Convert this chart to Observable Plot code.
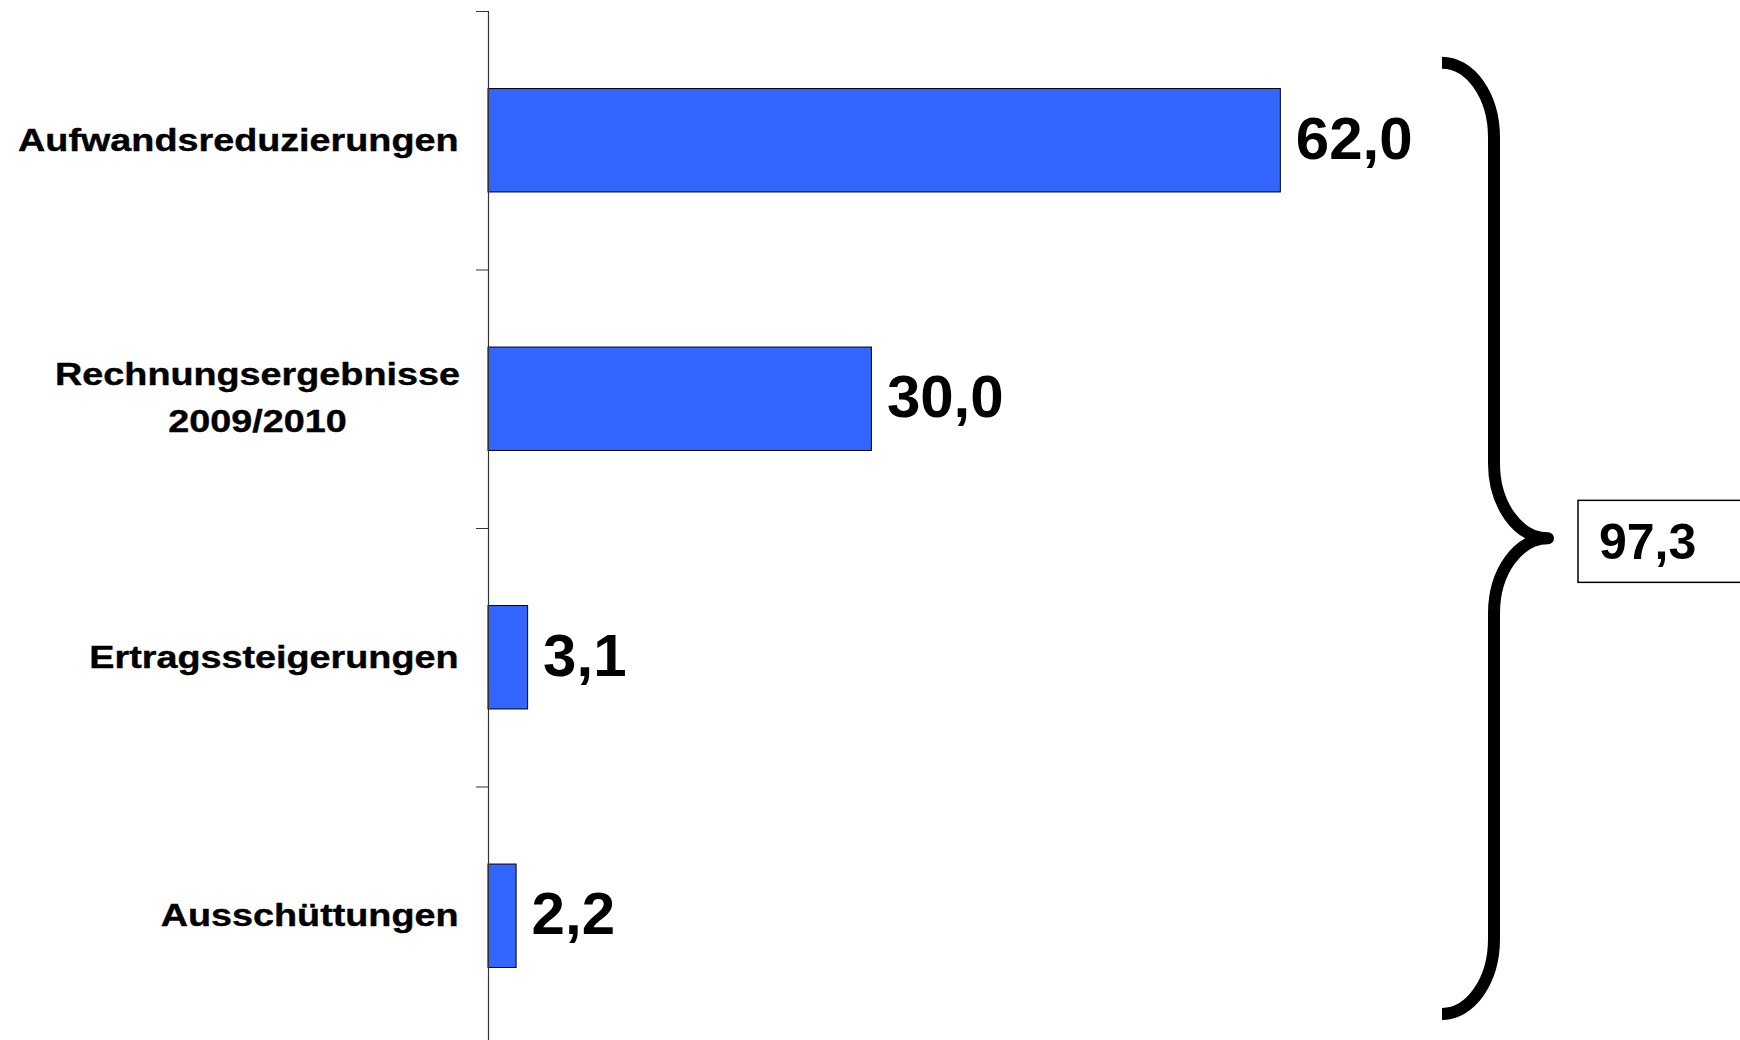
<!DOCTYPE html>
<html><head><meta charset="utf-8">
<script src="https://cdn.jsdelivr.net/npm/d3@7"></script>
<script src="https://cdn.jsdelivr.net/npm/@observablehq/plot@0.6"></script>
<style>
html,body{margin:0;padding:0;background:#fff;}
#chart{width:1740px;height:1040px;overflow:hidden;}
</style>
</head><body><div id="chart"></div>
<script>
// ---- data ----
const categories = ["Aufwandsreduzierungen", "Rechnungsergebnisse\n2009/2010", "Ertragssteigerungen", "Ausschüttungen"];
const values = [62.0, 30.0, 3.1, 2.2];
const totalValue = 97.3;

const data = categories.map((c, i) => ({category: c, value: values[i], i}));
const fmt = v => d3.format(".1f")(v).replace(".", ",");
const FONT = "Arial, 'Liberation Sans', Helvetica, sans-serif";
const single = data.filter(d => !d.category.includes("\n"));
const multi = data.filter(d => d.category.includes("\n"));

const chart = Plot.plot({
  width: 1740, height: 1040,
  marginLeft: 488, marginRight: 0, marginTop: 11, marginBottom: 0,
  style: {fontFamily: FONT, background: "#fff", overflow: "hidden", color: "#000"},
  x: {domain: [0, 97.97], axis: null},
  y: {domain: [0, 4], range: [11, 1045], axis: null},
  marks: [
    Plot.rectX(data, {x1: 0, x2: "value", y1: d => d.i + 0.3, y2: d => d.i + 0.7,
      fill: "#3366FF", stroke: "#000", strokeWidth: 1}),
    Plot.axisY({ticks: [0, 1, 2, 3, 4], tickFormat: () => "", tickSize: 12, stroke: "#333", label: null}),
    Plot.ruleX([0], {y1: 0, y2: 4, stroke: "#333", strokeWidth: 1.2}),
    Plot.text(single, {x: 0, y: d => d.i + 0.5, text: "category", textAnchor: "end",
      dx: -30, dy: 0, fontSize: 32, fontWeight: "bold", fill: "#000", stroke: "#000", strokeWidth: 0.4}),
    Plot.text(multi, {x: 0, y: d => d.i + 0.5, text: "category", textAnchor: "middle",
      dx: -231, dy: -6, lineHeight: 1.47, fontSize: 32, fontWeight: "bold", fill: "#000", stroke: "#000", strokeWidth: 0.4}),
    Plot.text(data, {x: "value", y: d => d.i + 0.5, text: d => fmt(d.value), textAnchor: "start",
      dx: 15, dy: -1, fontSize: 60, fontWeight: "bold", fill: "#000"})
  ]
});
document.getElementById("chart").appendChild(chart);

// stretch category labels horizontally (as in the reference)
const flat = categories.map(c => c.replace("\n", ""));
d3.select(chart).selectAll("text").each(function() {
  if (!flat.includes(this.textContent)) return;
  const tr = this.getAttribute("transform");
  if (tr) this.setAttribute("transform", tr + " scale(1.18,1)");
  else {
    const x = +this.getAttribute("x") || 0;
    this.setAttribute("transform", `translate(${x},0) scale(1.18,1) translate(${-x},0)`);
  }
});

// brace + total box annotation
const ys = chart.scale("y");
const yt = ys.apply(0.2), yb = ys.apply(3.88), ym = (yt + yb) / 2;
const bx0 = 1442, bx1 = 1494, bx2 = 1548, ry = 75, rxe = 52, rxt = 54;
const svg = d3.select(chart);
svg.append("path")
  .attr("d", `M${bx0},${yt} A${rxe},${ry} 0 0 1 ${bx1},${yt + ry} L${bx1},${ym - ry} A${rxt},${ry} 0 0 0 ${bx2},${ym} A${rxt},${ry} 0 0 0 ${bx1},${ym + ry} L${bx1},${yb - ry} A${rxe},${ry} 0 0 1 ${bx0},${yb}`)
  .attr("fill", "none").attr("stroke", "#000").attr("stroke-width", 12)
  .attr("stroke-linecap", "butt").attr("stroke-linejoin", "round");
svg.append("rect")
  .attr("x", 1578).attr("y", ym - 38).attr("width", 220).attr("height", 82)
  .attr("fill", "#fff").attr("stroke", "#000").attr("stroke-width", 1.5);
svg.append("text")
  .attr("x", 1599).attr("y", ym + 21)
  .attr("text-anchor", "start")
  .attr("font-family", FONT).attr("font-size", 50).attr("font-weight", "bold").attr("fill", "#000")
  .text(fmt(totalValue));
</script>
</body></html>
